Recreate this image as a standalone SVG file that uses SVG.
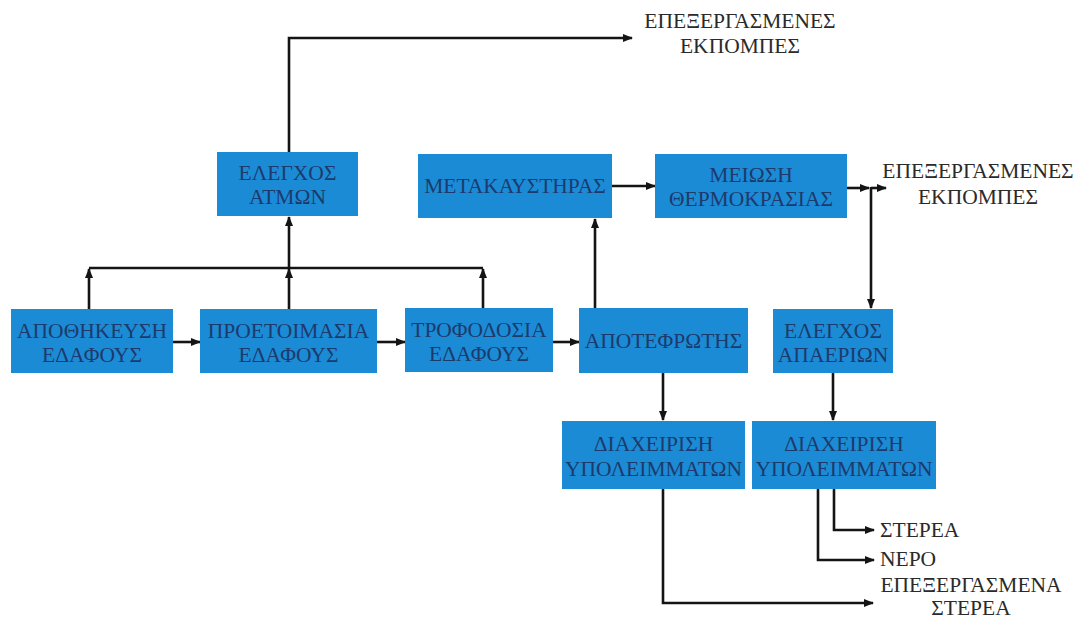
<svg xmlns="http://www.w3.org/2000/svg" width="1078" height="621" viewBox="0 0 1078 621">
<style>
.box{fill:#1b8bd6;}
.bt{font-family:"Liberation Serif","Times New Roman",serif;font-size:21.5px;fill:#1d3a6c;text-anchor:middle;}
.lb{font-family:"Liberation Serif","Times New Roman",serif;font-size:21.5px;fill:#2a2a2a;}
.c{fill:none;stroke:#141414;stroke-width:2.6;}
</style>
<defs>
<marker id="ah" markerUnits="userSpaceOnUse" markerWidth="10" markerHeight="10" viewBox="0 0 10 10" refX="9" refY="5" orient="auto">
<path d="M0,1 L10,5 L0,9 Z" fill="#141414"/>
</marker>
</defs>
<rect width="1078" height="621" fill="#ffffff"/>
<g id="connectors">
<path class="c" d="M89,268 H483"/>
<path class="c" d="M89,309 V269" marker-end="url(#ah)"/>
<path class="c" d="M289,309 V269" marker-end="url(#ah)"/>
<path class="c" d="M483,308 V269" marker-end="url(#ah)"/>
<path class="c" d="M289,268 V217" marker-end="url(#ah)"/>
<path class="c" d="M289,152 V38 H632" marker-end="url(#ah)"/>
<path class="c" d="M173,342 H200" marker-end="url(#ah)"/>
<path class="c" d="M377,342 H405" marker-end="url(#ah)"/>
<path class="c" d="M553,342 H579" marker-end="url(#ah)"/>
<path class="c" d="M595,308 V219" marker-end="url(#ah)"/>
<path class="c" d="M612,186 H655" marker-end="url(#ah)"/>
<path class="c" d="M847,188 H869" marker-end="url(#ah)"/>
<path class="c" d="M871,188 H886" marker-end="url(#ah)"/>
<path class="c" d="M871,187 V308" marker-end="url(#ah)"/>
<path class="c" d="M663,373 V420" marker-end="url(#ah)"/>
<path class="c" d="M833,373 V420" marker-end="url(#ah)"/>
<path class="c" d="M834,489 V530 H874" marker-end="url(#ah)"/>
<path class="c" d="M818,489 V560 H874" marker-end="url(#ah)"/>
<path class="c" d="M663,489 V603 H873" marker-end="url(#ah)"/>
</g>
<g id="n-elegxos-atmon">
<rect class="box" x="217" y="152" width="141" height="64"/>
<text class="bt" x="287.5" y="180">ΕΛΕΓΧΟΣ</text>
<text class="bt" x="287.5" y="204">ΑΤΜΩΝ</text>
</g>
<g id="n-metakaustiras">
<rect class="box" x="418" y="154" width="194" height="64"/>
<text class="bt" x="515" y="193">ΜΕΤΑΚΑΥΣΤΗΡΑΣ</text>
</g>
<g id="n-meiosi">
<rect class="box" x="655" y="154" width="192" height="64"/>
<text class="bt" x="751" y="182">ΜΕΙΩΣΗ</text>
<text class="bt" x="751" y="206">ΘΕΡΜΟΚΡΑΣΙΑΣ</text>
</g>
<g id="n-apothikeusi">
<rect class="box" x="11" y="309" width="162" height="64"/>
<text class="bt" x="92" y="338">ΑΠΟΘΗΚΕΥΣΗ</text>
<text class="bt" x="92" y="362">ΕΔΑΦΟΥΣ</text>
</g>
<g id="n-proetoimasia">
<rect class="box" x="200" y="309" width="177" height="64"/>
<text class="bt" x="288.5" y="338">ΠΡΟΕΤΟΙΜΑΣΙΑ</text>
<text class="bt" x="288.5" y="362">ΕΔΑΦΟΥΣ</text>
</g>
<g id="n-trofodosia">
<rect class="box" x="405" y="308" width="148" height="64"/>
<text class="bt" x="479" y="337">ΤΡΟΦΟΔΟΣΙΑ</text>
<text class="bt" x="479" y="361">ΕΔΑΦΟΥΣ</text>
</g>
<g id="n-apotefrotis">
<rect class="box" x="579" y="308" width="169" height="65"/>
<text class="bt" x="663.5" y="348">ΑΠΟΤΕΦΡΩΤΗΣ</text>
</g>
<g id="n-elegxos-apaerion">
<rect class="box" x="773" y="309" width="120" height="64"/>
<text class="bt" x="833" y="338">ΕΛΕΓΧΟΣ</text>
<text class="bt" x="833" y="362">ΑΠΑΕΡΙΩΝ</text>
</g>
<g id="n-diax1">
<rect class="box" x="562" y="421" width="183" height="68"/>
<text class="bt" x="653.5" y="451">ΔΙΑΧΕΙΡΙΣΗ</text>
<text class="bt" x="653.5" y="476">ΥΠΟΛΕΙΜΜΑΤΩΝ</text>
</g>
<g id="n-diax2">
<rect class="box" x="752" y="421" width="184" height="68"/>
<text class="bt" x="844" y="451">ΔΙΑΧΕΙΡΙΣΗ</text>
<text class="bt" x="844" y="476">ΥΠΟΛΕΙΜΜΑΤΩΝ</text>
</g>
<g id="labels">
<text class="lb" x="740" y="28" text-anchor="middle">ΕΠΕΞΕΡΓΑΣΜΕΝΕΣ</text>
<text class="lb" x="740" y="53" text-anchor="middle">ΕΚΠΟΜΠΕΣ</text>
<text class="lb" x="978" y="178" text-anchor="middle">ΕΠΕΞΕΡΓΑΣΜΕΝΕΣ</text>
<text class="lb" x="978" y="204" text-anchor="middle">ΕΚΠΟΜΠΕΣ</text>
<text class="lb" x="880" y="537">ΣΤΕΡΕΑ</text>
<text class="lb" x="880" y="566">ΝΕΡΟ</text>
<text class="lb" x="971" y="592" text-anchor="middle">ΕΠΕΞΕΡΓΑΣΜΕΝΑ</text>
<text class="lb" x="971" y="615" text-anchor="middle">ΣΤΕΡΕΑ</text>
</g>
</svg>
